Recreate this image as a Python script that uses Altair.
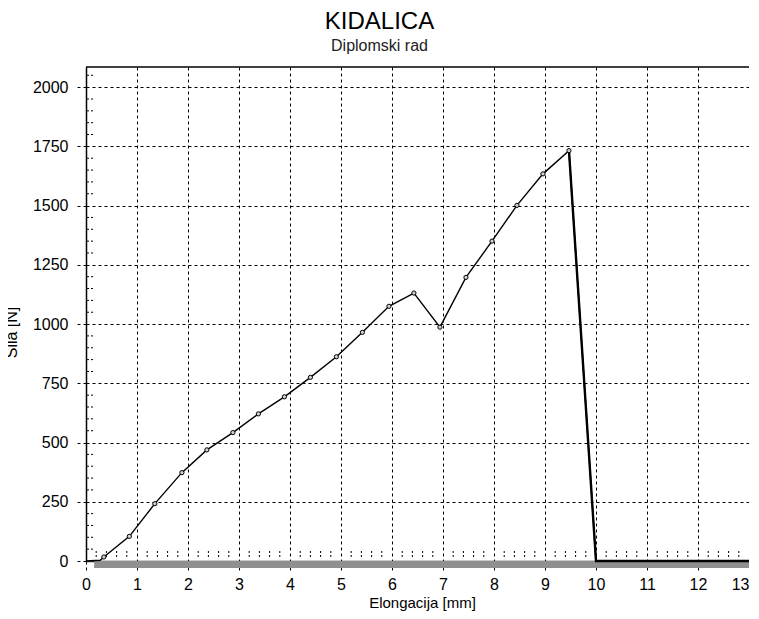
import altair as alt
import pandas as pd

title_text = "KIDALICA"
subtitle_text = "Diplomski rad"
x_title = "Elongacija [mm]"
y_title = "Sila [N]"

# measured points (markers)
marker_x = [0.35, 0.85, 1.35, 1.88, 2.37, 2.88, 3.38, 3.89, 4.40, 4.91,
            5.42, 5.94, 6.43, 6.94, 7.45, 7.96, 8.45, 8.96, 9.47]
marker_y = [17, 104, 242, 373, 469, 542, 621, 693, 775, 862,
            965, 1075, 1131, 987, 1197, 1350, 1501, 1634, 1732]

# line segments without markers
start_x = [0.0, 0.28]
start_y = [0, 3]
break_x = [9.47, 10.0]
break_y = [1732, 0]
tail_x = [10.0, 13.0]
tail_y = [0, 0]

x_ticks = list(range(0, 14))
y_ticks = [0, 250, 500, 750, 1000, 1250, 1500, 1750, 2000]
x_minor = [round(i * 0.2, 1) for i in range(1, 65) if i % 5 != 0]
y_minor = [i * 50 for i in range(1, 42) if i % 5 != 0]
band_x = [0.16]
band_x2 = [13.0]

X_MAX = 13.0
Y_MAX = 2085
FONT = "Liberation Sans"
W, H = 663, 494

line_df = pd.DataFrame({
    "x": start_x + marker_x + tail_x,
    "y": start_y + marker_y + tail_y,
})
line_df["i"] = range(len(line_df))
marker_df = pd.DataFrame({"x": marker_x, "y": marker_y})
drop_df = pd.DataFrame({"x": break_x + tail_x, "y": break_y + tail_y, "i": [0, 1, 2, 3]})
band_df = pd.DataFrame({"x": band_x, "x2": band_x2})
xminor_df = pd.DataFrame({"x": [v for v in x_minor if v <= X_MAX]})
yminor_df = pd.DataFrame({"y": y_minor})
frame_df = pd.DataFrame({"k": [0]})

xscale = alt.Scale(domain=[0, X_MAX], nice=False, zero=False)
yscale = alt.Scale(domain=[0, Y_MAX], nice=False, zero=False)

xaxis = alt.Axis(
    values=x_ticks, tickSize=11, tickDash=[3, 3], tickColor="black", tickWidth=1,
    labelPadding=4, labelFlush=False, labelFontSize=16, labelFont=FONT, labelColor="black",
    labelAlign={"condition": {"test": "datum.value >= 13", "value": "right"}, "value": "center"},
    grid=True, gridDash=[3, 3], gridColor="black", gridOpacity=1, gridWidth=1,
    domain=True, domainColor="#333", domainWidth=1.5,
    title=x_title, titleFont=FONT, titleFontSize=15, titleFontWeight="normal",
    titleColor="black", titleX=336, titleY=46, titleAlign="center", titleBaseline="alphabetic",
)
yaxis = alt.Axis(
    values=y_ticks, format="d", tickSize=9, tickDash=[3, 3], tickColor="black", tickWidth=1,
    labelPadding=9, labelFontSize=16, labelFont=FONT, labelColor="black",
    grid=True, gridDash=[3, 3], gridColor="black", gridOpacity=1, gridWidth=1,
    domain=True, domainColor="black", domainWidth=1.5,
    title=y_title, titleFont=FONT, titleFontSize=16, titleFontWeight="normal",
    titleColor="black", titleAngle=270, titleX=-70, titleY=265, titleAlign="center",
    titleBaseline="alphabetic",
)

X = alt.X("x:Q", scale=xscale, axis=xaxis)
Y = alt.Y("y:Q", scale=yscale, axis=yaxis)

band = alt.Chart(band_df).mark_rect(color="#8f8f8f").encode(
    x=X, x2="x2:Q", y=alt.value(H), y2=alt.value(H + 7)
)
top_border = alt.Chart(frame_df).mark_rect(color="black").encode(
    x=alt.value(0), x2=alt.value(W), y=alt.value(-0.75), y2=alt.value(0.75)
)
xminor = alt.Chart(xminor_df).mark_rule(color="black", strokeDash=[2, 2], strokeWidth=1).encode(
    x=X, y=alt.value(H - 10), y2=alt.value(H - 3)
)
yminor = alt.Chart(yminor_df).mark_rule(color="black", strokeDash=[2, 2], strokeWidth=1).encode(
    y=Y, x=alt.value(1), x2=alt.value(9)
)
line = alt.Chart(line_df).mark_line(color="black", strokeWidth=1.4).encode(
    x=X, y=Y, order="i:Q"
)
drop = alt.Chart(drop_df).mark_line(color="black", strokeWidth=2.4).encode(
    x=X, y=Y, order="i:Q"
)
points = alt.Chart(marker_df).mark_point(
    shape="circle", filled=True, size=18, fill="#d0d0d0", stroke="black", strokeWidth=1, opacity=1
).encode(x=X, y=Y)

chart = alt.layer(band, top_border, xminor, yminor, line, drop, points).properties(
    width=W, height=H,
    background="white",
    autosize=alt.AutoSizeParams(type="none"),
    padding={"left": 78, "top": 59, "right": 0, "bottom": 50},
    title=alt.Title(
        text=title_text, subtitle=subtitle_text, anchor="middle", dx=-38, offset=12,
        font=FONT, fontSize=24, fontWeight="normal", color="black",
        subtitleFont=FONT, subtitleFontSize=16, subtitleColor="#222", subtitlePadding=4,
    ),
).configure_view(
    stroke="transparent", strokeOpacity=0
)

chart.save("out.html", embed_options={"renderer": "svg", "actions": False})
